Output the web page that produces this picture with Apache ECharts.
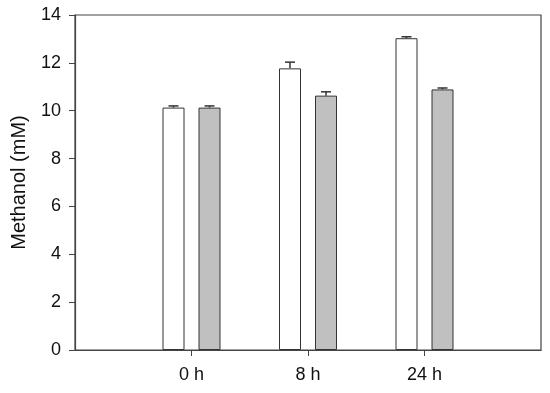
<!DOCTYPE html>
<html>
<head>
<meta charset="utf-8">
<script src="https://cdn.jsdelivr.net/npm/echarts@6/dist/echarts.min.js"></script>
<style>
  html, body { margin: 0; padding: 0; background: #fff; }
  #chart { width: 550px; height: 393px; }
</style>
</head>
<body>
<div id="chart"></div>
<script>
var categories = ['0 h', '8 h', '24 h'];
var catPos = [1, 2, 3];
var whiteVals = [10.13, 11.77, 13.03];
var whiteErr = [0.07, 0.26, 0.06];
var grayVals = [10.13, 10.63, 10.89];
var grayErr = [0.07, 0.16, 0.06];
var yTicks = [0, 2, 4, 6, 8, 10, 12, 14];

var font = 'Arial, "Liberation Sans", sans-serif';
var barW = 22;
var gapPx = 14;

function pairs(vals, errs) {
	return vals.map(function (v, i) { return [catPos[i], v, errs[i]]; });
}

function errorSeries(vals, errs, side) {
	return {
		type: 'custom',
		data: pairs(vals, errs),
		z: 3,
		renderItem: function (params, api) {
			var shift = side * (barW + gapPx) / 2;
			var top = api.coord([api.value(0), api.value(1) + api.value(2)]);
			var base = api.coord([api.value(0), api.value(1)]);
			var x = top[0] + shift;
			var style = { stroke: '#333', lineWidth: 1.5 };
			return {
				type: 'group',
				children: [
					{ type: 'line', shape: { x1: x, y1: base[1], x2: x, y2: top[1] }, style: style },
					{ type: 'line', shape: { x1: x - 5, y1: top[1], x2: x + 5, y2: top[1] }, style: style }
				]
			};
		}
	};
}

var chart = echarts.init(document.getElementById('chart'));
chart.setOption({
	animation: false,
	textStyle: { fontFamily: font },
	grid: {
		left: 75, right: 9, top: 15, bottom: 43,
		show: true, borderColor: '#444', borderWidth: 1.2
	},
	xAxis: {
		type: 'value',
		min: 0, max: 4, interval: 1,
		splitLine: { show: false },
		axisLine: { show: true, lineStyle: { color: '#444', width: 1.2 } },
		axisTick: { show: true, customValues: catPos, length: 6, lineStyle: { color: '#444' } },
		axisLabel: {
			customValues: catPos,
			margin: 16,
			fontSize: 18,
			color: '#111',
			fontFamily: font,
			formatter: function (v) { return categories[catPos.indexOf(v)]; }
		}
	},
	yAxis: {
		type: 'value',
		min: 0, max: 14, interval: 2,
		name: 'Methanol (mM)',
		nameLocation: 'middle',
		nameGap: 46,
		nameTextStyle: { fontSize: 20, color: '#111', fontFamily: font },
		splitLine: { show: false },
		axisLine: { show: true, lineStyle: { color: '#444', width: 1.2 } },
		axisTick: { show: true, length: 6, lineStyle: { color: '#444' } },
		axisLabel: {
			margin: 14,
			fontSize: 18,
			color: '#111',
			fontFamily: font,
			formatter: function (v) { return yTicks.indexOf(v) >= 0 ? String(v) : ''; }
		}
	},
	series: [
		{
			type: 'bar',
			data: pairs(whiteVals, whiteErr),
			barWidth: barW,
			barGap: (gapPx / barW * 100) + '%',
			itemStyle: { color: '#ffffff', borderColor: '#333', borderWidth: 1 }
		},
		{
			type: 'bar',
			data: pairs(grayVals, grayErr),
			barWidth: barW,
			itemStyle: { color: '#c0c0c0', borderColor: '#333', borderWidth: 1 }
		},
		errorSeries(whiteVals, whiteErr, -1),
		errorSeries(grayVals, grayErr, 1)
	]
});
</script>
</body>
</html>
